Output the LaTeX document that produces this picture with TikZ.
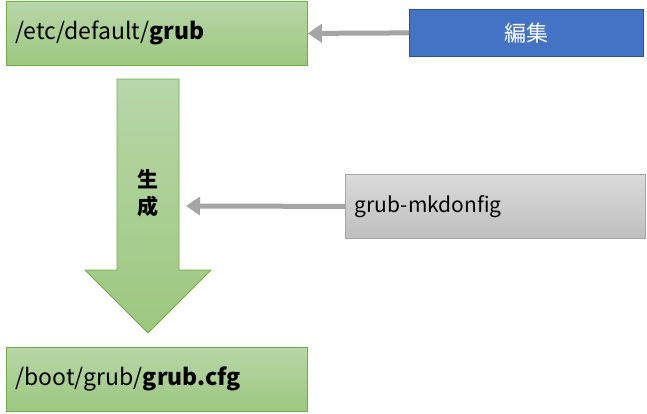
\documentclass[tikz,border=0pt]{standalone}
\usepackage{fontspec}
\setmainfont{Noto Sans CJK JP}
\usetikzlibrary{arrows.meta}
\definecolor{gtop}{HTML}{B7D7A8}
\definecolor{gbot}{HTML}{9DC77F}
\definecolor{gline}{HTML}{70AD47}
\definecolor{blfill}{HTML}{4472C4}
\definecolor{blline}{HTML}{2F528F}
\definecolor{grtop}{HTML}{DADADA}
\definecolor{grbot}{HTML}{BFBFBF}
\definecolor{grline}{HTML}{A6A6A6}
\definecolor{arr}{HTML}{A5A5A5}
\begin{document}
\begin{tikzpicture}[x=1pt,y=-1pt,
  filebox/.style={draw=gline,line width=0.8pt,top color=gtop,bottom color=gbot,minimum width=301pt,minimum height=64pt,inner sep=0pt,text width=283pt,align=left,font=\fontsize{23}{26}\selectfont,anchor=north west},
  conn/.style={draw=arr,line width=5pt,-{Triangle[length=14pt,width=18pt]}}]
\useasboundingbox (0,0) rectangle (647,413);
\node[filebox] (src) at (6,1) {/etc/default/\textbf{grub}};
\node[filebox] (dst) at (6,347) {/boot/grub/\textbf{grub.cfg}};
\node[draw=blline,line width=0.8pt,fill=blfill,text=white,minimum width=234pt,minimum height=47pt,anchor=north west,font=\fontsize{22}{26}\selectfont] (edit) at (409,9) {編集};
\node[draw=grline,line width=0.8pt,top color=grtop,bottom color=grbot,minimum width=300pt,minimum height=64pt,inner sep=0pt,text width=281pt,align=left,anchor=north west,font=\fontsize{21}{24}\selectfont] (mk) at (345,174) {grub-mkdonfig};
\shade[top color=gtop,bottom color=gbot,draw=gline,line width=0.8pt]
  (117,79) -- (179,79) -- (179,270) -- (211,270) -- (148,333) -- (85,270) -- (117,270) -- cycle;
\node[font=\fontsize{21}{27}\selectfont\bfseries,align=center] (gen) at (148,193) {生\\成};
\coordinate (tip) at (186,206);
\draw[conn] (edit.west) -- (src.east);
\draw[conn] (mk.west) -- (tip);
\end{tikzpicture}
\end{document}
